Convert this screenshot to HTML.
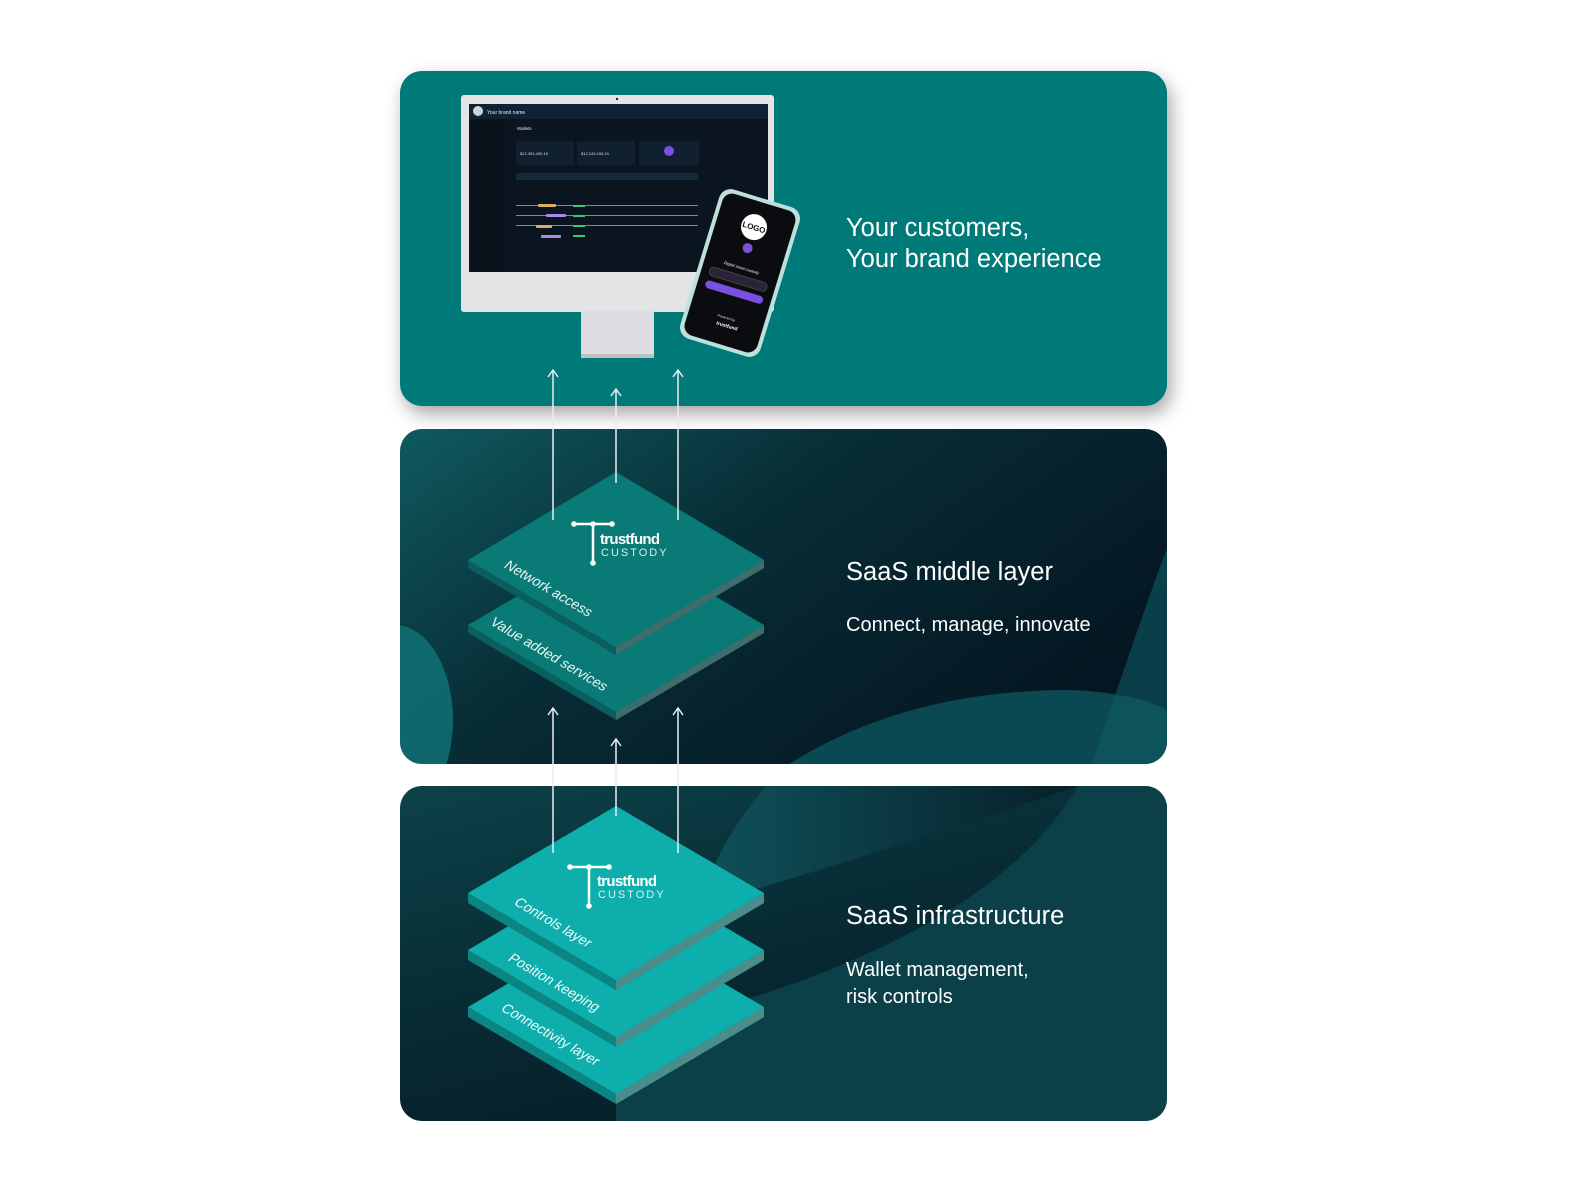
<!DOCTYPE html>
<html><head><meta charset="utf-8"><style>
html,body{margin:0;padding:0;background:#fff;}
body{width:1571px;height:1196px;overflow:hidden;}
svg{display:block}
text{font-family:"Liberation Sans",sans-serif;}
</style></head><body>
<svg width="1571" height="1196" viewBox="0 0 1571 1196" xmlns="http://www.w3.org/2000/svg">
<defs>
<filter id="sh" x="-10%" y="-10%" width="120%" height="130%"><feDropShadow dx="4" dy="8" stdDeviation="9" flood-color="#000" flood-opacity="0.35"/></filter>
<linearGradient id="gm" x1="0" y1="0" x2="1" y2="0.6">
<stop offset="0" stop-color="#0f5a5e"/><stop offset="0.45" stop-color="#082d36"/><stop offset="1" stop-color="#041621"/></linearGradient>
<linearGradient id="gb" x1="0" y1="0" x2="0.6" y2="1">
<stop offset="0" stop-color="#0c4249"/><stop offset="0.6" stop-color="#072831"/><stop offset="1" stop-color="#061d27"/></linearGradient>
<linearGradient id="gc" x1="0" y1="0" x2="1" y2="0">
<stop offset="0" stop-color="#0f5159"/><stop offset="1" stop-color="#071f29"/></linearGradient>
<clipPath id="cm"><rect x="400" y="429" width="767" height="335" rx="22"/></clipPath>
<clipPath id="cb"><rect x="400" y="786" width="767" height="335" rx="22"/></clipPath>
</defs>

<rect x="400" y="71" width="767" height="335" rx="22" fill="#067a78" filter="url(#sh)"/>

<rect x="400" y="429" width="767" height="335" rx="22" fill="url(#gm)"/>
<g clip-path="url(#cm)">
<ellipse cx="395" cy="720" rx="58" ry="95" fill="#0f7174" opacity="0.85"/>
<path d="M780 770 Q900 690 1070 690 Q1140 693 1170 712 L1170 770 Z" fill="#0c4f58" opacity="0.9"/>
<path d="M1090 770 Q1140 620 1170 540 L1170 770 Z" fill="#0e5a62" opacity="0.6"/>
</g>

<rect x="400" y="786" width="767" height="335" rx="22" fill="url(#gb)"/>
<g clip-path="url(#cb)">
<path d="M766 786 Q720 840 704 893 L760 888 Q950 830 1078 786 Z" fill="url(#gc)"/>
<path d="M1078 786 Q1000 920 744 1000 L616 1040 L616 1125 L1170 1125 L1170 786 Z" fill="#0b4049"/>
</g>

<!-- monitor -->
<rect x="461" y="95" width="313" height="217" rx="3" fill="#e3e4e6"/>
<rect x="469" y="104" width="299" height="168" fill="#0b1520"/>
<rect x="469" y="104" width="299" height="15" fill="#0e2233"/>
<rect x="469" y="119" width="36" height="153" fill="#0a121b"/>
<circle cx="478" cy="111" r="5" fill="#cfd3d8"/>
<text x="487" y="114" font-size="5" fill="#e6e6e6">Your brand name</text>
<text x="517" y="130" font-size="4.5" fill="#e6e6e6">Wallets</text>
<rect x="516" y="141" width="58" height="24" fill="#102030"/>
<rect x="577" y="141" width="58" height="24" fill="#102030"/>
<rect x="639" y="141" width="60" height="24" fill="#102030"/>
<circle cx="669" cy="151" r="5" fill="#7b4fe0"/>
<text x="520" y="155" font-size="4" fill="#ddd">$12,393,400.18</text>
<text x="581" y="155" font-size="4" fill="#ddd">$12,249,150.19</text>
<rect x="516" y="173" width="182" height="7" fill="#132a3a"/>
<g fill="#7a8a99"><rect x="516" y="205" width="182" height="1"/><rect x="516" y="215" width="182" height="1"/><rect x="516" y="225" width="182" height="1"/></g>
<g fill="#d7b060"><rect x="538" y="204" width="18" height="3" rx="1"/><rect x="536" y="225" width="16" height="3" rx="1"/></g>
<g fill="#a88be6"><rect x="546" y="214" width="20" height="3" rx="1"/><rect x="541" y="235" width="20" height="3" rx="1"/></g>
<g fill="#3fc47a"><rect x="573" y="205" width="12" height="2"/><rect x="573" y="215" width="12" height="2"/><rect x="573" y="225" width="12" height="2"/><rect x="573" y="235" width="12" height="2"/></g>
<rect x="581" y="311" width="73" height="47" fill="#dcdde0"/>
<rect x="581" y="354" width="73" height="4" fill="#bfc0c3"/>
<circle cx="617" cy="99" r="1.2" fill="#222"/>

<g transform="translate(740 273) rotate(17)">
<rect x="-42" y="-78" width="84" height="156" rx="12" fill="#bde0dd"/>
<rect x="-38" y="-74" width="76" height="148" rx="10" fill="#0b0c10"/>
<circle cx="0" cy="-48" r="13" fill="#fff"/>
<text x="0" y="-45" font-size="8" font-weight="bold" text-anchor="middle" fill="#111">LOGO</text>
<circle cx="0" cy="-26" r="5" fill="#7a52d8"/>
<text x="0" y="-4" font-size="4" text-anchor="middle" fill="#eee" font-style="italic">Digital asset custody</text>
<rect x="-30" y="2" width="60" height="9" rx="4" fill="#2a2438" stroke="#555" stroke-width="0.6"/>
<rect x="-30" y="16" width="60" height="8" rx="4" fill="#7b4fe0"/>
<text x="0" y="48" font-size="3.5" text-anchor="middle" fill="#ddd">Powered by</text>
<text x="3" y="56" font-size="5" font-weight="bold" text-anchor="middle" fill="#fff">trustfund</text>
</g>

<text x="846" y="236" font-size="25.5" fill="#fff">Your customers,</text>
<text x="846" y="267" font-size="25.5" fill="#fff">Your brand experience</text>
<text x="846" y="580" font-size="25.5" fill="#fff">SaaS middle layer</text>
<text x="846" y="631" font-size="20" fill="#fff">Connect, manage, innovate</text>
<text x="846" y="924" font-size="25.5" fill="#fff">SaaS infrastructure</text>
<text x="846" y="976" font-size="20" fill="#fff">Wallet management,</text>
<text x="846" y="1003" font-size="20" fill="#fff">risk controls</text>

<g>
<path d="M468 625 L616 712 L764 625 L764 633 L616 720 L468 633 Z" fill="#0a5e5d"/>
<path d="M616 712 L764 625 L764 633 L616 720 Z" fill="#3d6e6c"/>
<path d="M468 625 L616 538 L764 625 L616 712 Z" fill="#0a7a76"/>
<path d="M468 560 L616 647 L764 560 L764 568 L616 655 L468 568 Z" fill="#0a5e5d"/>
<path d="M616 647 L764 560 L764 568 L616 655 Z" fill="#3d6e6c"/>
<path d="M468 560 L616 472 L764 560 L616 647 Z" fill="#0a7a76"/>
<text transform="translate(503 567) rotate(30.5) skewX(-12)" font-size="14" fill="#e8f4f3">Network access</text>
<text transform="translate(489 624) rotate(30.5) skewX(-12)" font-size="14" fill="#e8f4f3">Value added services</text>
<g stroke="#fff" stroke-width="2.5" fill="#fff"><line x1="574" y1="524" x2="612" y2="524"/><line x1="593" y1="524" x2="593" y2="563"/></g>
<g fill="#fff"><circle cx="574" cy="524" r="2.8"/><circle cx="593" cy="524" r="2.8"/><circle cx="612" cy="524" r="2.8"/><circle cx="593" cy="563" r="2.8"/></g>
<text x="600" y="544" font-size="15" font-weight="bold" fill="#fff" textLength="60">trustfund</text>
<text x="601" y="556" font-size="11" fill="#d8eeed" letter-spacing="2">CUSTODY</text>
</g>

<g>
<path d="M468 1007 L616 1094 L764 1007 L764 1017 L616 1104 L468 1017 Z" fill="#0a8582"/>
<path d="M616 1094 L764 1007 L764 1017 L616 1104 Z" fill="#4a8d8b"/>
<path d="M468 1007 L616 920 L764 1007 L616 1094 Z" fill="#0daeac"/>
<path d="M468 950 L616 1037 L764 950 L764 960 L616 1047 L468 960 Z" fill="#0a8582"/>
<path d="M616 1037 L764 950 L764 960 L616 1047 Z" fill="#4a8d8b"/>
<path d="M468 950 L616 863 L764 950 L616 1037 Z" fill="#0daeac"/>
<path d="M468 893 L616 980 L764 893 L764 903 L616 990 L468 903 Z" fill="#0a8582"/>
<path d="M616 980 L764 893 L764 903 L616 990 Z" fill="#4a8d8b"/>
<path d="M468 893 L616 806 L764 893 L616 980 Z" fill="#0daeac"/>
<text transform="translate(513 904) rotate(30.5) skewX(-12)" font-size="14" fill="#effafa">Controls layer</text>
<text transform="translate(507 960) rotate(30.5) skewX(-12)" font-size="14" fill="#effafa">Position keeping</text>
<text transform="translate(500 1010) rotate(30.5) skewX(-12)" font-size="14" fill="#effafa">Connectivity layer</text>
<g stroke="#fff" stroke-width="2.5"><line x1="570" y1="867" x2="609" y2="867"/><line x1="589" y1="867" x2="589" y2="906"/></g>
<g fill="#fff"><circle cx="570" cy="867" r="2.8"/><circle cx="589" cy="867" r="2.8"/><circle cx="609" cy="867" r="2.8"/><circle cx="589" cy="906" r="2.8"/></g>
<text x="597" y="886" font-size="15" font-weight="bold" fill="#fff" textLength="60">trustfund</text>
<text x="598" y="898" font-size="11" fill="#d8f4f3" letter-spacing="2">CUSTODY</text>
</g>

<g stroke="#e9eef0" stroke-width="1.5" fill="none">
<line x1="553" y1="371" x2="553" y2="520"/><polyline points="548,377 553,370 558,377"/>
<line x1="616" y1="390" x2="616" y2="483"/><polyline points="611,396 616,389 621,396"/>
<line x1="678" y1="371" x2="678" y2="520"/><polyline points="673,377 678,370 683,377"/>
<line x1="553" y1="709" x2="553" y2="853"/><polyline points="548,715 553,708 558,715"/>
<line x1="616" y1="740" x2="616" y2="816"/><polyline points="611,746 616,739 621,746"/>
<line x1="678" y1="709" x2="678" y2="853"/><polyline points="673,715 678,708 683,715"/>
</g>
</svg>
</body></html>
